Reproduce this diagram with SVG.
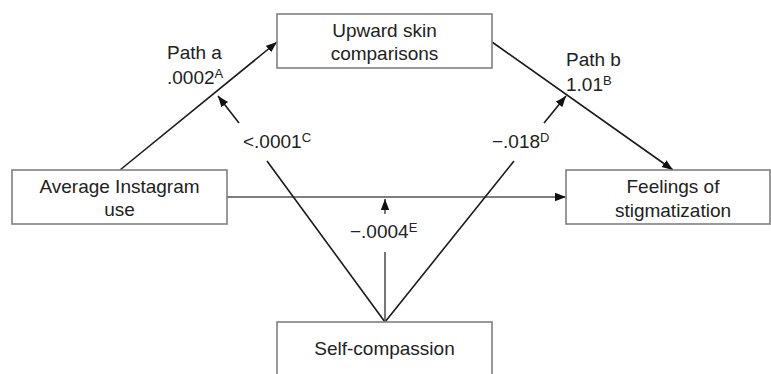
<svg xmlns="http://www.w3.org/2000/svg" width="771" height="374" viewBox="0 0 771 374">
<defs>
<marker id="arr" markerUnits="userSpaceOnUse" markerWidth="12" markerHeight="10" refX="11" refY="5" orient="auto">
<path d="M0,0.8 L11,5 L0,9.2 Z" fill="#111"/>
</marker>
<style>
.box{fill:#fff;stroke:#808080;stroke-width:1.6}
.ln{stroke:#1a1a1a;stroke-width:1.6;fill:none}
.gl{stroke:#555;stroke-width:1.6;fill:none}
text{font-family:"Liberation Sans",Arial,sans-serif;font-size:19px;fill:#222}
.c{text-anchor:middle}
.sup{font-size:13px}
</style>
</defs>
<rect width="771" height="374" fill="#fff"/>
<g id="connectors">
<line class="ln" x1="120" y1="170" x2="277" y2="42" marker-end="url(#arr)"/>
<line class="ln" x1="492" y1="42" x2="673" y2="170" marker-end="url(#arr)"/>
<line class="gl" x1="227" y1="197" x2="566" y2="197" marker-end="url(#arr)"/>
<line class="ln" x1="385" y1="322" x2="267" y2="161"/>
<line class="ln" x1="239" y1="123" x2="218" y2="96" marker-end="url(#arr)"/>
<line class="ln" x1="385" y1="322" x2="514" y2="161"/>
<line class="ln" x1="544" y1="123" x2="566" y2="96" marker-end="url(#arr)"/>
<line class="gl" x1="385" y1="322" x2="385" y2="252"/>
<line class="gl" x1="385" y1="214" x2="385" y2="199" marker-end="url(#arr)"/>
</g>
<g id="labels">
<text x="167" y="59">Path a</text>
<text x="167" y="84">.0002<tspan class="sup" dy="-6">A</tspan></text>
<text x="243" y="148">&lt;.0001<tspan class="sup" dy="-6">C</tspan></text>
<text x="566" y="66">Path b</text>
<text x="566" y="91">1.01<tspan class="sup" dy="-6">B</tspan></text>
<text x="492" y="148">−.018<tspan class="sup" dy="-6">D</tspan></text>
<text x="350" y="238">−.0004<tspan class="sup" dy="-6">E</tspan></text>
</g>
<g id="upward">
<rect class="box" x="277" y="14" width="215" height="54"/>
<text class="c" x="384.5" y="37">Upward skin</text>
<text class="c" x="384.5" y="60">comparisons</text>
</g>
<g id="instagram">
<rect class="box" x="12" y="170" width="215" height="54"/>
<text class="c" x="119.5" y="193">Average Instagram</text>
<text class="c" x="119.5" y="216">use</text>
</g>
<g id="feelings">
<rect class="box" x="566" y="170" width="204" height="54"/>
<text class="c" x="673" y="193">Feelings of</text>
<text class="c" x="673" y="217">stigmatization</text>
</g>
<g id="selfcompassion">
<rect class="box" x="277" y="322" width="215" height="60"/>
<text class="c" x="384.5" y="355">Self-compassion</text>
</g>
</svg>
